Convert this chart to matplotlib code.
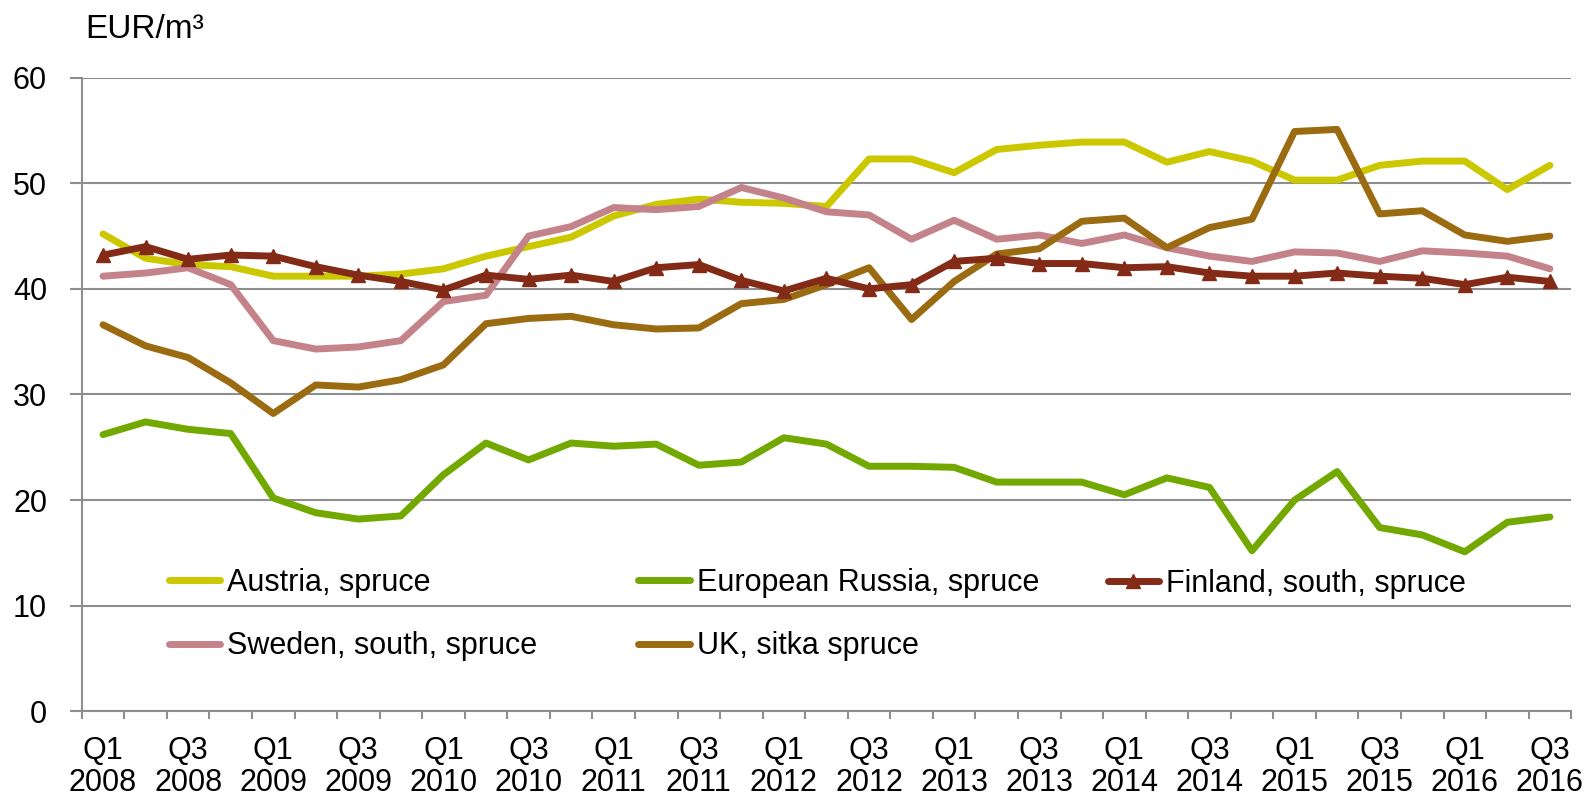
import matplotlib
matplotlib.use("Agg")
import matplotlib.pyplot as plt
from matplotlib.ticker import FixedLocator

plt.rcParams['font.family'] = ['Liberation Sans', 'DejaVu Sans']

# quarterly saw log prices, Q1 2008 .. Q3 2016
quarters = []
for yr in range(2008, 2017):
    for q in range(1, 5):
        quarters.append("Q%d\n%d" % (q, yr))
quarters = quarters[:35]

austria = [45.2, 42.9, 42.3, 42.1, 41.2, 41.2, 41.2, 41.4, 41.9, 43.1, 44.0, 44.9,
           46.9, 48.0, 48.5, 48.2, 48.1, 47.8, 52.3, 52.3, 51.0, 53.2, 53.6, 53.9,
           53.9, 52.0, 53.0, 52.1, 50.3, 50.3, 51.7, 52.1, 52.1, 49.4, 51.7]
russia = [26.2, 27.4, 26.7, 26.3, 20.2, 18.8, 18.2, 18.5, 22.4, 25.4, 23.8, 25.4,
          25.1, 25.3, 23.3, 23.6, 25.9, 25.3, 23.2, 23.2, 23.1, 21.7, 21.7, 21.7,
          20.5, 22.1, 21.2, 15.2, 20.0, 22.7, 17.4, 16.7, 15.1, 17.9, 18.4]
finland = [43.2, 44.0, 42.8, 43.2, 43.1, 42.1, 41.3, 40.7, 39.9, 41.3, 40.9, 41.3,
           40.7, 42.0, 42.3, 40.8, 39.8, 41.0, 40.0, 40.4, 42.6, 42.9, 42.4, 42.4,
           42.0, 42.1, 41.5, 41.2, 41.2, 41.5, 41.2, 41.0, 40.4, 41.1, 40.7]
sweden = [41.2, 41.5, 42.0, 40.4, 35.1, 34.3, 34.5, 35.1, 38.8, 39.4, 45.0, 45.9,
          47.7, 47.5, 47.8, 49.6, 48.6, 47.3, 47.0, 44.7, 46.5, 44.7, 45.1, 44.3,
          45.1, 43.9, 43.1, 42.6, 43.5, 43.4, 42.6, 43.6, 43.4, 43.1, 41.9]
uk = [36.6, 34.6, 33.5, 31.1, 28.2, 30.9, 30.7, 31.4, 32.8, 36.7, 37.2, 37.4,
      36.6, 36.2, 36.3, 38.6, 39.0, 40.4, 42.0, 37.1, 40.7, 43.3, 43.8, 46.4,
      46.7, 43.9, 45.8, 46.6, 54.9, 55.1, 47.1, 47.4, 45.1, 44.5, 45.0]

labels = ["Austria, spruce", "European Russia, spruce", "Finland, south, spruce",
          "Sweden, south, spruce", "UK, sitka spruce"]
colors = ["#CCC800", "#72A800", "#832B17", "#C4838A", "#9A6B10"]

fs = 22
grid_col = "#8E8E8E"

fig = plt.figure(figsize=(15.84, 7.99), dpi=100)
ax = fig.add_axes([0.0516, 0.1098, 0.9403, 0.793])

x = list(range(len(quarters)))
kw = dict(lw=5, solid_capstyle='round', solid_joinstyle='round')
l_aus, = ax.plot(x, austria, color=colors[0], label=labels[0], zorder=3, **kw)
l_rus, = ax.plot(x, russia, color=colors[1], label=labels[1], zorder=3, **kw)
l_swe, = ax.plot(x, sweden, color=colors[3], label=labels[3], zorder=3, **kw)
l_uk, = ax.plot(x, uk, color=colors[4], label=labels[4], zorder=3, **kw)
l_fin, = ax.plot(x, finland, color=colors[2], label=labels[2], marker='^',
                 markersize=10, zorder=4, **kw)

ax.set_xlim(-0.5, len(quarters) - 0.5)
ax.set_ylim(0, 60)
ax.set_yticks(range(0, 61, 10))
ax.yaxis.grid(True, color=grid_col, lw=1.5)
ax.set_axisbelow(True)
ax.tick_params(axis='y', length=9, width=1.5, color=grid_col, pad=16, labelsize=fs)

# labels on Q1/Q3, tick marks between quarters
ax.set_xticks(x[::2])
ax.set_xticklabels(quarters[::2], fontsize=fs, linespacing=1.08)
ax.xaxis.set_minor_locator(FixedLocator([i - 0.5 for i in range(len(quarters) + 1)]))
ax.tick_params(axis='x', which='major', length=0, pad=18)
ax.tick_params(axis='x', which='minor', length=6, width=1.5, color=grid_col)

for s in ['top', 'right']:
    ax.spines[s].set_visible(False)
for s in ['left', 'bottom']:
    ax.spines[s].set_color(grid_col)
    ax.spines[s].set_linewidth(1.5)

# legend, three columns placed like the original
leg_kw = dict(frameon=False, fontsize=fs, handlelength=1.67, handletextpad=0.25,
              borderpad=0, borderaxespad=0, labelspacing=1.1, loc='center left',
              numpoints=1)
leg1 = ax.legend([l_aus, l_swe], [labels[0], labels[3]],
                 bbox_to_anchor=(0.0583, 0.1528), **leg_kw)
ax.add_artist(leg1)
leg2 = ax.legend([l_rus, l_uk], [labels[1], labels[4]],
                 bbox_to_anchor=(0.3738, 0.1528), **leg_kw)
ax.add_artist(leg2)
ax.legend([l_fin], [labels[2]], bbox_to_anchor=(0.6888, 0.2009), **leg_kw)

fig.text(85 / 1584, 1 - 30 / 799, "EUR/m\u00b3", fontsize=24, va='center', ha='left')

fig.savefig("out.png", dpi=100)
